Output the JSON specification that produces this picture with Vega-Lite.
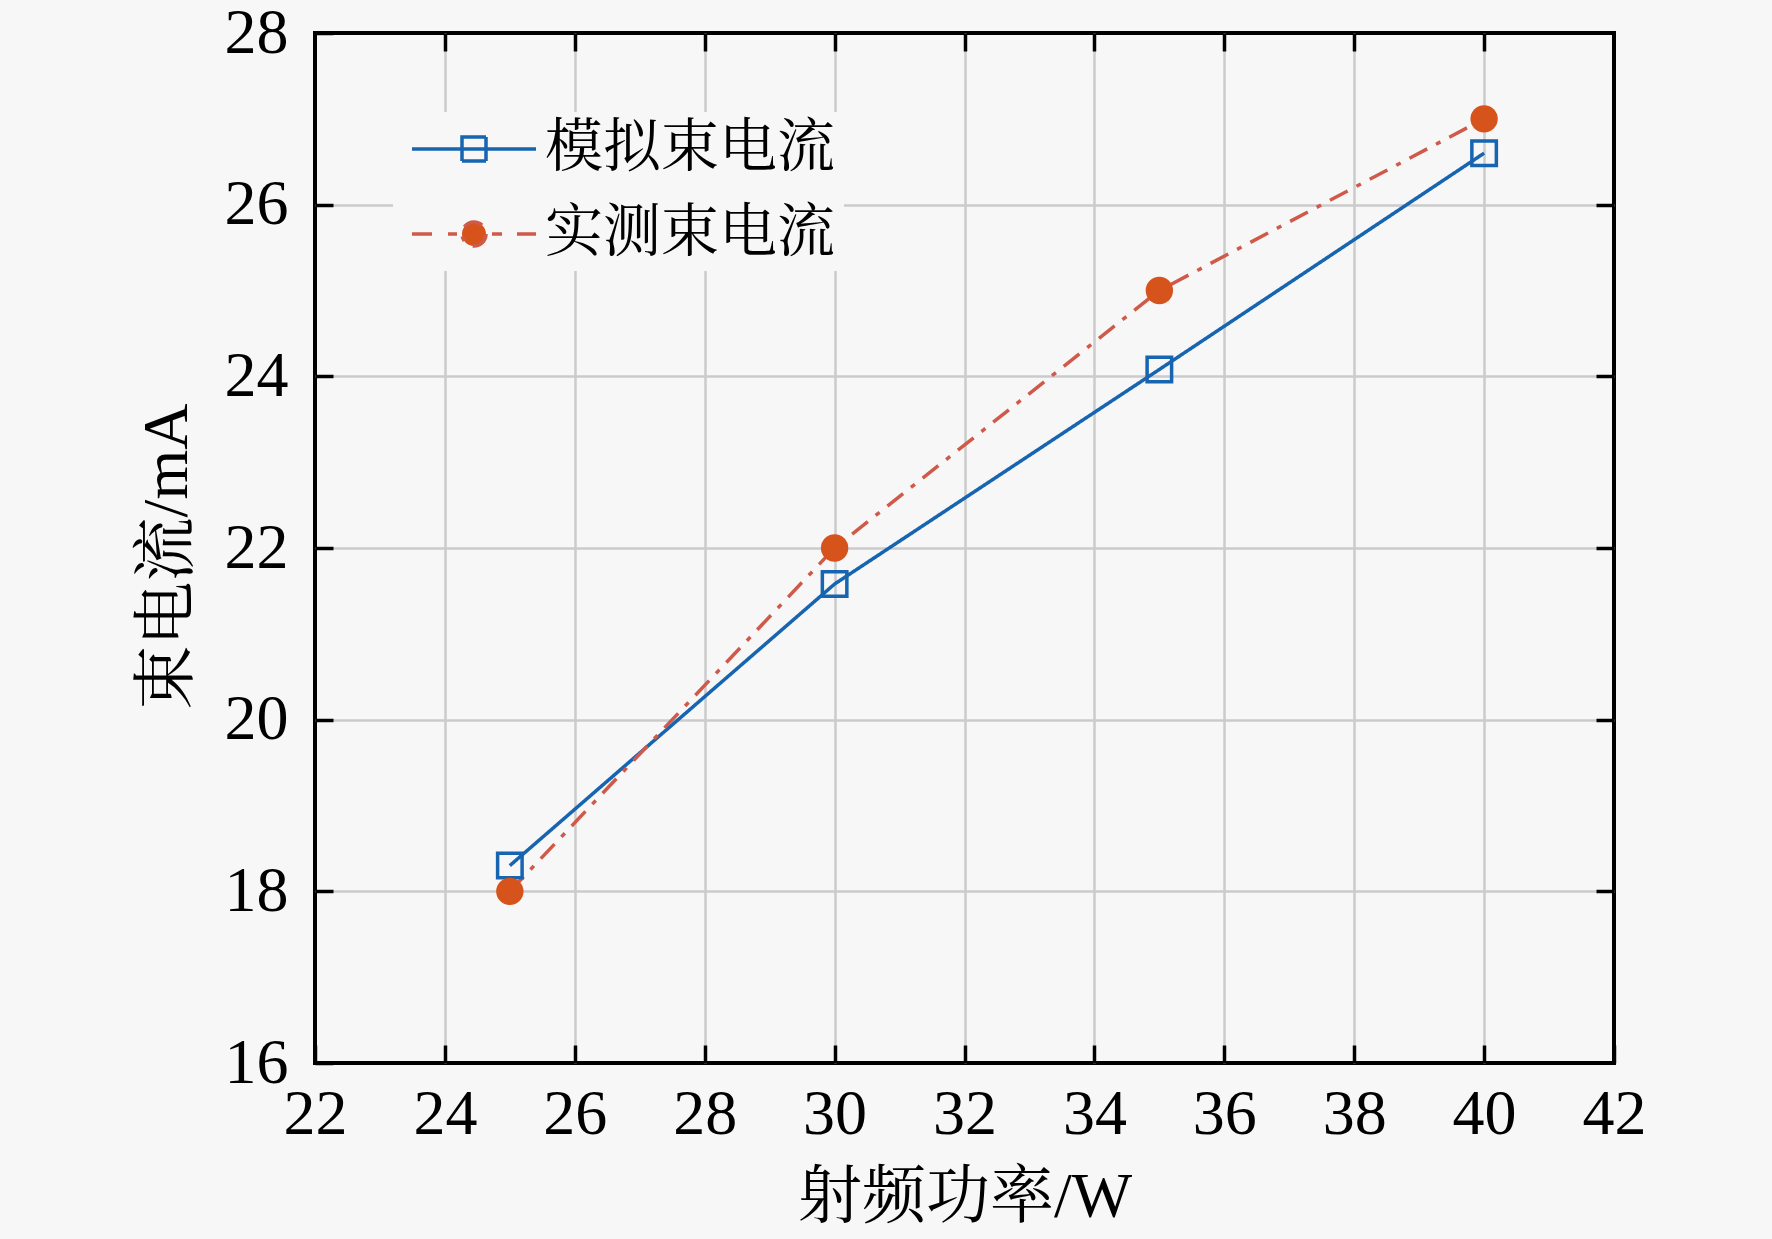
{
  "$schema": "https://vega.github.io/schema/vega-lite/v6.json",
  "description": "束电流 vs 射频功率: simulated and measured beam current.",
  "width": 1299,
  "height": 1030,
  "autosize": "none",
  "padding": {"left": 315, "top": 33, "right": 158, "bottom": 176},
  "background": "#f7f7f7",
  "config": {
    "view": {"stroke": "black", "strokeWidth": 4, "fill": "#f7f7f7"},
    "font": "Liberation Serif, Noto Serif CJK SC, Noto Sans CJK SC, serif"
  },
  "data": {
    "values": [
      {"power": 25, "current": 18.3, "series": "模拟束电流"},
      {"power": 30, "current": 21.58, "series": "模拟束电流"},
      {"power": 35, "current": 24.08, "series": "模拟束电流"},
      {"power": 40, "current": 26.6, "series": "模拟束电流"},
      {"power": 25, "current": 18.0, "series": "实测束电流"},
      {"power": 30, "current": 22.0, "series": "实测束电流"},
      {"power": 35, "current": 25.0, "series": "实测束电流"},
      {"power": 40, "current": 27.0, "series": "实测束电流"}
    ]
  },
  "resolve": {"axis": {"x": "independent", "y": "independent"}},
  "layer": [
    {
      "mark": {"type": "point", "opacity": 0},
      "encoding": {
        "x": {
          "field": "power", "type": "quantitative",
          "scale": {"domain": [22, 42], "nice": false, "zero": false},
          "axis": {
            "orient": "top", "values": [24, 26, 28, 30, 32, 34, 36, 38, 40],
            "grid": true, "gridColor": "#cbcbcb", "gridWidth": 2.5,
            "labels": false, "domain": false, "title": null,
            "ticks": true, "tickColor": "black", "tickWidth": 3.5, "tickSize": -18
          }
        },
        "y": {
          "field": "current", "type": "quantitative",
          "scale": {"domain": [16, 28], "nice": false, "zero": false},
          "axis": {
            "orient": "right", "values": [18, 20, 22, 24, 26],
            "grid": true, "gridColor": "#cbcbcb", "gridWidth": 2.5,
            "labels": false, "domain": false, "title": null,
            "ticks": true, "tickColor": "black", "tickWidth": 3.5, "tickSize": -18
          }
        }
      }
    },
    {
      "mark": {"type": "line", "strokeWidth": 3.5},
      "encoding": {
        "x": {
          "field": "power", "type": "quantitative",
          "axis": {
            "values": [22, 24, 26, 28, 30, 32, 34, 36, 38, 40, 42],
            "grid": false, "domain": false,
            "tickColor": "black", "tickWidth": 3.5, "tickSize": -18,
            "labelFont": "Liberation Serif",
            "labelFontSize": 64, "labelColor": "black", "labelPadding": 37,
            "labelFlush": false, "labelOverlap": false,
            "title": "射频功率/W", "titleFontSize": 64, "titleFontWeight": "normal",
            "titleColor": "black", "titleY": 134, "titleBaseline": "middle"
          }
        },
        "y": {
          "field": "current", "type": "quantitative",
          "axis": {
            "values": [16, 18, 20, 22, 24, 26, 28],
            "grid": false, "domain": false,
            "tickColor": "black", "tickWidth": 3.5, "tickSize": -18,
            "labelFont": "Times New Roman",
            "labelFontSize": 64, "labelColor": "black", "labelPadding": 45,
            "labelFlush": false, "labelOverlap": false,
            "title": "束电流/mA", "titleFontSize": 64, "titleFontWeight": "normal",
            "titleColor": "black", "titleX": -148, "titleY": 523, "titleBaseline": "middle"
          }
        },
        "color": {
          "field": "series", "type": "nominal",
          "scale": {"domain": ["模拟束电流", "实测束电流"], "range": ["#1764b0", "#cf5a4a"]},
          "legend": {
            "orient": "none", "legendX": 78, "legendY": 79, "title": null,
            "padding": 8, "fillColor": "#f7f7f7", "strokeColor": null,
            "labelFontSize": 58, "labelColor": "black", "labelLimit": 0,
            "labelOffset": 42, "symbolOffset": 44, "rowPadding": 27,
            "symbolSize": 1600, "symbolStrokeWidth": 3,
            "encode": {
              "symbols": {
                "update": {
                  "shape": {"signal": "datum.value === '模拟束电流' ? 'M-3.1,0H3.1M-0.6,-0.6H0.6V0.6H-0.6Z' : 'M-3.1,0H-2.05M-1.3,0H-0.85M0.9,0H1.4M2.15,0H3.1M0.6,0A0.6,0.6,0,1,1,-0.6,0A0.6,0.6,0,1,1,0.6,0Z'"},
                  "fill": {"signal": "datum.value === '模拟束电流' ? 'transparent' : '#d6531c'"},
                  "stroke": {"signal": "datum.value === '模拟束电流' ? '#1764b0' : '#cf5a4a'"},
                  "strokeWidth": {"value": 3.5},
                  "strokeDash": {"value": []},
                  "size": {"value": 1600},
                  "opacity": {"value": 1}
                }
              }
            }
          }
        },
        "strokeDash": {
          "field": "series", "type": "nominal",
          "scale": {"domain": ["模拟束电流", "实测束电流"], "range": [[1, 0], [20, 10, 5, 10]]},
          "legend": null
        }
      }
    },
    {
      "transform": [{"filter": "datum.series === '模拟束电流'"}],
      "mark": {"type": "point", "shape": "square", "size": 600, "filled": false, "color": "#1764b0", "strokeWidth": 3.5, "opacity": 1},
      "encoding": {
        "x": {"field": "power", "type": "quantitative", "axis": null},
        "y": {"field": "current", "type": "quantitative", "axis": null}
      }
    },
    {
      "transform": [{"filter": "datum.series === '实测束电流'"}],
      "mark": {"type": "point", "shape": "circle", "size": 750, "filled": true, "color": "#d6531c", "opacity": 1},
      "encoding": {
        "x": {"field": "power", "type": "quantitative", "axis": null},
        "y": {"field": "current", "type": "quantitative", "axis": null}
      }
    }
  ]
}
